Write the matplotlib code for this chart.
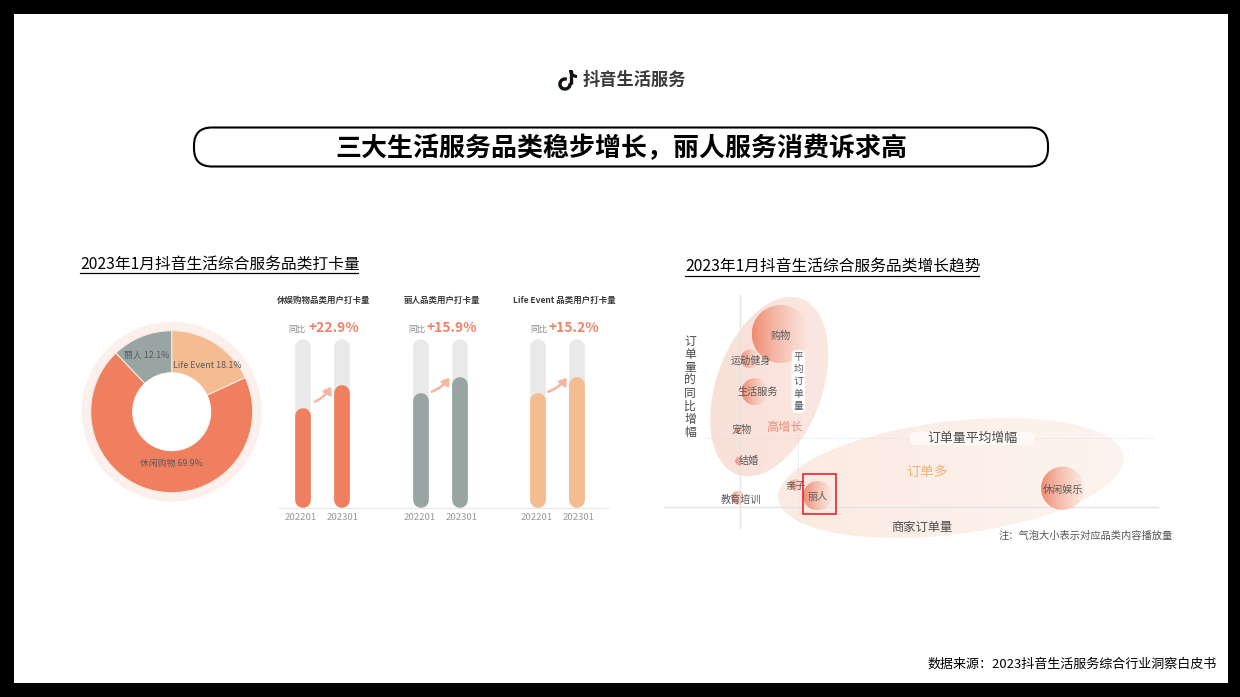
import numpy as np
import matplotlib
matplotlib.use("Agg")
import matplotlib.pyplot as plt
from matplotlib.patches import Circle, Ellipse, FancyBboxPatch, Rectangle, Arc
from matplotlib.colors import to_rgb

plt.rcParams['font.family'] = ['Noto Sans CJK SC', 'DejaVu Sans']

W, H = 1240, 697

# donut data
pie_labels = ['Life Event 18.1%', '休闲购物 69.9%', '丽人 12.1%']
pie_values = [18.1, 69.9, 12.1]
pie_colors = ['#F5BC8F', '#F07F60', '#98A5A3']

# bar data (share of the grey track)
bar_titles = ['休娱购物品类用户打卡量', '丽人品类用户打卡量', 'Life Event 品类用户打卡量']
bar_growth = ['+22.9%', '+15.9%', '+15.2%']
bar_years = ['202201', '202301']
bar_2022 = [59.3, 68.0, 68.0]
bar_2023 = [72.6, 77.6, 77.6]
bar_colors = ['#F07F60', '#98A5A3', '#F5BC8F']

# bubble data (position and radius on the chart)
bubble_names = ['购物', '运动健身', '生活服务', '宠物', '结婚', '教育培训', '亲子', '丽人', '休闲娱乐']
bubble_x = [780.7, 750, 755, 739.3, 740, 738.3, 795.7, 817.7, 1062.7]
bubble_y = [334, 359, 391.7, 430.7, 461, 497.7, 485, 495.7, 488.3]
bubble_r = [29, 9.3, 13.5, 3.5, 4.7, 7, 5.7, 14.7, 21.7]
label_x = [781, 751.3, 757.3, 741.7, 749.3, 741, 795, 817.7, 1062.7]
label_y = [335, 359.7, 391, 429, 460.3, 498.7, 485, 495.7, 489.3]


def px_axes(x0, y0, x1, y1):
    a = fig.add_axes([x0 / W, 1 - y1 / H, (x1 - x0) / W, (y1 - y0) / H])
    a.axis('off')
    return a


def gradient_fill(patch, x0, x1, y0, y1, left, right, a_left, a_right):
    # horizontal colour fade clipped to a patch
    ax.add_patch(patch)
    patch.set_facecolor('none')
    patch.set_edgecolor('none')
    t = np.linspace(0, 1, 200)[None, :, None]
    rgb = np.array(to_rgb(left))[None, None, :] * (1 - t) + np.array(to_rgb(right))[None, None, :] * t
    alpha = a_left * (1 - t) + a_right * t
    im = ax.imshow(np.concatenate([rgb, alpha], axis=2), extent=[x0, x1, y1, y0],
                   aspect='auto', zorder=patch.get_zorder(), interpolation='bilinear')
    im.set_clip_path(patch)


def txt(x, y, s, size, color, **kw):
    # the CJK font sits a little high with va=center
    kw.setdefault('ha', 'center')
    ax.text(x, y + 1, s, fontsize=size, color=color, va='center', zorder=5, **kw)


fig = plt.figure(figsize=(W / 100, H / 100), dpi=100, facecolor='black')
fig.patches.append(Rectangle((14 / W, 1 - 683 / H), 1214 / W, 669 / H, transform=fig.transFigure,
                             fc='white', ec='none', zorder=-1))
ax = fig.add_axes([0, 0, 1, 1])
ax.set_xlim(0, W)
ax.set_ylim(H, 0)
ax.axis('off')
ax.set_autoscale_on(False)
ax.set_zorder(2)

# logo
ax.plot([570.5, 570.5], [70, 84], color='#111111', lw=2.4, solid_capstyle='butt', zorder=3)
ax.add_patch(Arc((565, 84), 10, 10, theta1=-10, theta2=290, color='#111111', lw=2.4, zorder=3))
ax.add_patch(Arc((577, 70), 13, 13, theta1=90, theta2=180, color='#111111', lw=2.2, zorder=3))
ax.add_patch(Arc((564, 85), 10, 10, theta1=90, theta2=230, color='#35C8D0', lw=1, zorder=2))
ax.add_patch(Arc((566, 84), 10, 10, theta1=-30, theta2=120, color='#E8436A', lw=1, zorder=2))
txt(634, 78.5, '抖音生活服务', 12.4, '#3A3A3A', fontweight='bold')

# title pill
ax.add_patch(FancyBboxPatch((194, 127.5), 854, 39, boxstyle='round,pad=0,rounding_size=18',
                            fc='white', ec='black', lw=1.5, zorder=2))
txt(621, 147.5, '三大生活服务品类稳步增长，丽人服务消费诉求高', 18.7, 'black', fontweight='bold')

# section headers
txt(80, 263, '2023年1月抖音生活综合服务品类打卡量', 11.3, 'black', ha='left')
ax.plot([80, 358], [272.5, 272.5], color='black', lw=0.9)
txt(685, 266, '2023年1月抖音生活综合服务品类增长趋势', 11.3, 'black', ha='left')
ax.plot([685, 979], [275.5, 275.5], color='black', lw=0.9)

txt(1217, 663, '数据来源：2023抖音生活服务综合行业洞察白皮书', 9.4, 'black', ha='right')

# donut
donut_ax = px_axes(171.7 - 95, 411.7 - 95, 171.7 + 95, 411.7 + 95)
donut_ax.add_patch(Circle((0, 0), 90 / 81, fc='#FCF0EC', ec='none', zorder=0))
donut_ax.pie(pie_values, colors=pie_colors, startangle=90, counterclock=False, radius=1,
             wedgeprops=dict(width=1 - 39 / 81, edgecolor='#F6E9E4', linewidth=0.8))
donut_ax.add_patch(Circle((0, 0), 39 / 81, fc='white', ec='none', zorder=3))
donut_ax.set_xlim(-95 / 81, 95 / 81)
donut_ax.set_ylim(-95 / 81, 95 / 81)
pie_text_x = [207.7, 171, 146.7]
pie_text_y = [365, 462, 354]
for name, tx, ty in zip(pie_labels, pie_text_x, pie_text_y):
    txt(tx, ty, name, 6.4, '#5A5A5A')

# bars, one axes spanning the grey tracks, value scale 0-100
bar_ax = px_axes(279, 339, 608, 507.7)
bar_ax.set_xlim(279, 608)
bar_ax.set_ylim(0, 100)
left_x = [303, 421.3, 538.3]
right_x = [341.7, 460.3, 577.3]
cap = 4.66
bar_lw = 15.7 * 72 / 100
for i in range(3):
    for xp, val in zip([left_x[i], right_x[i]], [bar_2022[i], bar_2023[i]]):
        bar_ax.plot([xp, xp], [cap, 100 - cap], color='#E8E9E8', lw=bar_lw, solid_capstyle='round')
        bar_ax.plot([xp, xp], [cap, val - cap], color=bar_colors[i], lw=bar_lw, solid_capstyle='round')
ax.plot([279, 608], [507.5, 507.5], color='#E6E6E6', lw=0.8, zorder=1)

title_x = [323.5, 442, 564]
tong_x = [297, 417, 539]
pct_x = [333.5, 452, 574]
year_x = [301, 343, 420, 462, 537, 579]
for i in range(3):
    txt(title_x[i], 299, bar_titles[i], 6.1, '#3C3C3C', fontweight='bold')
    txt(tong_x[i], 328, '同比', 6.2, '#8A8A8A')
    txt(pct_x[i], 326.5, bar_growth[i], 10, '#F0826A', fontweight='bold')
    txt(year_x[2 * i], 516.5, bar_years[0], 6.9, '#999999')
    txt(year_x[2 * i + 1], 516.5, bar_years[1], 6.9, '#999999')

arrow_start = [(315, 401.7), (431.7, 391.7), (548.3, 391.7)]
arrow_end = [(331, 386.7), (449.3, 377.7), (566.7, 377.7)]
for s, e in zip(arrow_start, arrow_end):
    ax.annotate('', xy=e, xytext=s, zorder=4,
                arrowprops=dict(arrowstyle='-|>,head_width=0.28,head_length=0.4', color='#F6B5A2',
                                lw=1.8, shrinkA=0, shrinkB=0, connectionstyle='arc3,rad=0.15'))

# bubble chart ellipses and axis lines
up = Ellipse((769.3, 386.7), 2 * 52.8, 2 * 93.5, angle=20, zorder=1)
gradient_fill(up, 705, 835, 290, 480, '#F9DFD7', '#FBE8E2', 1, 1)
low = Ellipse((951, 478), 2 * 174, 2 * 56.5, angle=-7, zorder=1)
gradient_fill(low, 775, 1128, 415, 540, '#FBEAE1', '#FDF4EF', 1, 1)

ax.plot([664, 1158], [506.7, 506.7], color='#E4E4E4', lw=1, zorder=1.5)
ax.plot([740, 740], [295, 528], color='#E4E4E4', lw=1, zorder=1.5)
ax.plot([705, 1153], [437.7, 437.7], color='#D8D8D8', lw=0.7, ls=(0, (1, 2)), zorder=1.5)
ax.plot([798, 798], [350, 515], color='#D8D8D8', lw=0.7, ls=(0, (1, 2)), zorder=1.5)

for bx, by, br in zip(bubble_x, bubble_y, bubble_r):
    c = Circle((bx, by), br, zorder=2)
    gradient_fill(c, bx - br, bx + br, by - br, by + br, '#EF8B70', '#FBE6DE', 1, 0.6)
for name, lx, ly in zip(bubble_names, label_x, label_y):
    txt(lx, ly, name, 7.3, '#5A5A5A')

# white pills behind axis names
ax.add_patch(FancyBboxPatch((791.7, 350), 13.3, 63, boxstyle='round,pad=0,rounding_size=5',
                            fc='white', ec='none', zorder=2.5))
ax.add_patch(FancyBboxPatch((910, 432), 124, 13, boxstyle='round,pad=0,rounding_size=5',
                            fc='#FEF9F6', ec='none', zorder=2.5))
for k, ch in enumerate('平均订单量'):
    txt(798.5, 355.7 + 12.3 * k, ch, 7, '#555555')
for k, ch in enumerate('订单量的同比增幅'):
    txt(690, 340 + 13.1 * k, ch, 8.5, '#4A4A4A')

txt(972, 437.5, '订单量平均增幅', 9.3, '#4A4A4A')
txt(784.3, 426, '高增长', 8.8, '#EE8F7A')
txt(927.3, 471, '订单多', 10, '#F0B27F')
txt(922, 526.5, '商家订单量', 8.8, '#4A4A4A')
txt(1086, 534.5, '注：气泡大小表示对应品类内容播放量', 7.4, '#555555')

ax.add_patch(Rectangle((802.7, 474.3), 33.3, 39.4, fc='none', ec='#E8141C', lw=1.1, zorder=6))

ax.set_xlim(0, W)
ax.set_ylim(H, 0)
fig.savefig('out.png', dpi=100, facecolor='black')
